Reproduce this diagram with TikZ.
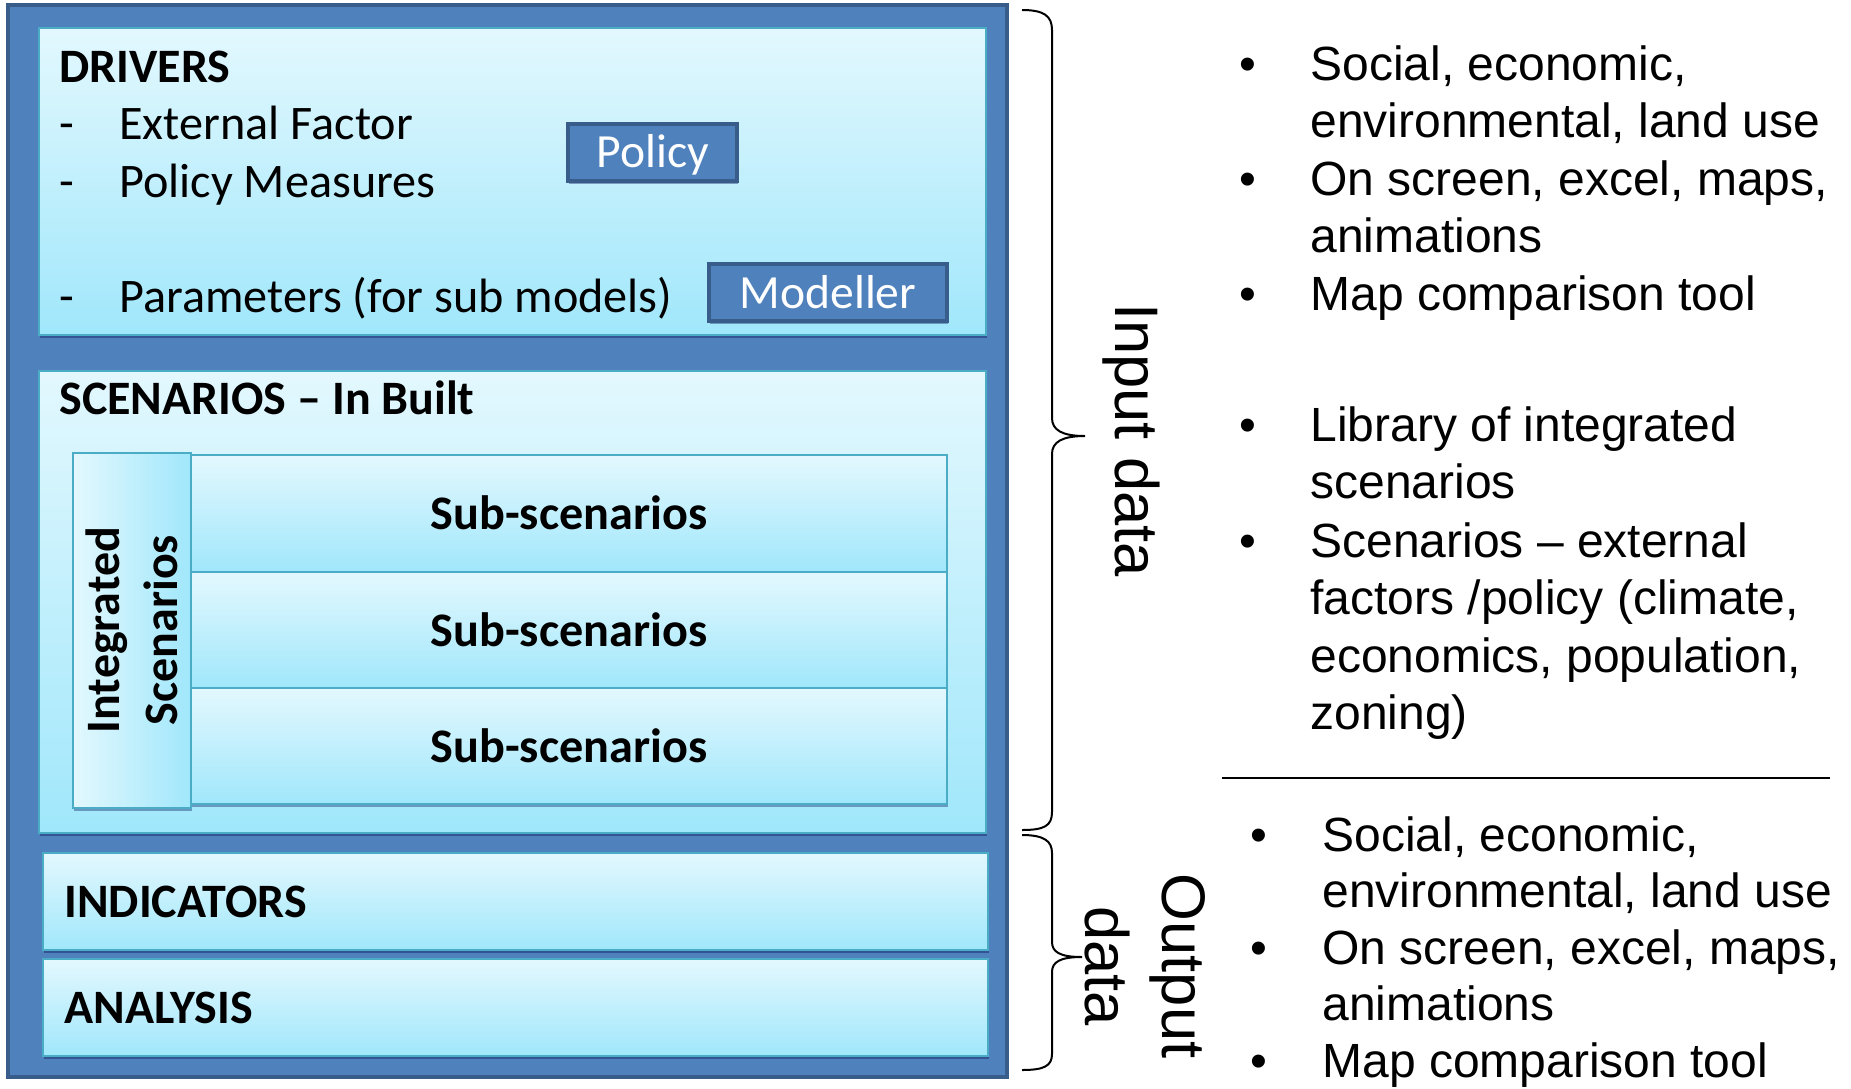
\documentclass[tikz,border=0pt]{standalone}
\usepackage{fontspec}
\setmainfont{Carlito}
\newfontfamily\arialf{Liberation Sans}
\usetikzlibrary{fit,shadows}
\definecolor{oblue}{HTML}{4F81BD}
\definecolor{odark}{HTML}{385D8A}
\definecolor{ptop}{HTML}{E3F8FE}
\definecolor{pbot}{HTML}{A0E7FB}
\definecolor{pedge}{HTML}{4BACC6}
\begin{document}
\begin{tikzpicture}[x=0.5pt,y=-0.5pt,
  shadowed/.style={drop shadow={shadow xshift=0.7pt,shadow yshift=-1.3pt,opacity=0.35,fill=black!70!blue}},
  outerbox/.style={fill=oblue,draw=odark,line width=2pt,inner sep=0pt},
  panel/.style={draw=pedge,line width=1pt,top color=ptop,bottom color=pbot,inner sep=0pt,shadowed},
  sidepanel/.style={draw=pedge,line width=1pt,left color=ptop,right color=pbot,inner sep=0pt,shadowed},
  subtext/.style={inner sep=0pt,anchor=base,font=\fontsize{24.1}{28}\selectfont\bfseries},
  btn/.style={fill=oblue,draw=odark,line width=1.75pt,inner sep=0pt,shadowed},
  btntext/.style={inner sep=0pt,anchor=base,text=white,font=\fontsize{23.8}{28}\selectfont},
  lbl/.style={inner sep=0pt,anchor=base west,font=\fontsize{24.1}{28}\selectfont},
  lblb/.style={inner sep=0pt,anchor=base west,font=\fontsize{24}{28}\selectfont\bfseries},
  rtext/.style={inner sep=0pt,anchor=base west,align=left,font=\arialf\fontsize{24}{28.75}\selectfont},
  rtextb/.style={inner sep=0pt,anchor=base west,align=left,font=\arialf\fontsize{24}{28.25}\selectfont},
  bul/.style={inner sep=0pt,anchor=base,font=\arialf\fontsize{24}{28.75}\selectfont},
  brace/.style={draw=black,line width=1pt},
  sepline/.style={draw=black,line width=1pt}
]
\fill[white] (0,0) rectangle (1851,1088);
\useasboundingbox (0,0) rectangle (1851,1088);

% outer frame
\node[outerbox,fit={(8,5) (1007,1077)}] (outer) {};

% drivers
\node[panel,fit={(39,28) (986,335)}] (drivers) {};
\node[lblb] (drvtitle) at (59,82) {DRIVERS};
\node[lbl] (ext) at (59,139) {\makebox[30pt][l]{-}External Factor};
\node[lbl] (pol) at (59,197) {\makebox[30pt][l]{-}Policy Measures};
\node[lbl] (par) at (59,312) {\makebox[30pt][l]{-}Parameters (for sub models)};
\node[btn,fit={(568,124) (737,181)}] (policy) {};
\node[btntext] (policytxt) at (653,167) {Policy};
\node[btn,fit={(709,264) (947,321)}] (modeller) {};
\node[btntext] (modellertxt) at (828,308) {Modeller};

% scenarios
\node[panel,fit={(39,371) (986,833)}] (scen) {};
\node[lblb] (scentitle) at (59,414) {SCENARIOS – In Built};
\node[panel,fit={(191,455) (947,572)}] (sub1) {};
\node[subtext] (sub1t) at (569,529) {Sub-scenarios};
\node[panel,fit={(191,572) (947,688)}] (sub2) {};
\node[subtext] (sub2t) at (569,646) {Sub-scenarios};
\node[panel,fit={(191,688) (947,804)}] (sub3) {};
\node[subtext] (sub3t) at (569,762) {Sub-scenarios};
\node[sidepanel,fit={(73,453) (191,808)}] (integ) {};
\node[inner sep=0pt,anchor=base,rotate=90,align=center,
  font=\fontsize{24}{29}\selectfont\bfseries] (integlbl) at (177,630) {Integrated\\Scenarios};

% indicators / analysis
\node[panel,fit={(43,853) (988,950)}] (ind) {};
\node[lblb] (indlbl) at (64,917) {INDICATORS};
\node[panel,fit={(43,959) (988,1056)}] (ana) {};
\node[lblb] (analbl) at (64,1023) {ANALYSIS};

% braces
\draw[brace] (1022,10) .. controls (1044,10) and (1052,16) .. (1052,30)
  -- (1052,418) .. controls (1052,430) and (1062,436) .. (1085,436)
  .. controls (1062,436) and (1052,442) .. (1052,454)
  -- (1052,812) .. controls (1052,826) and (1044,830) .. (1022,830);
\draw[brace] (1022,835) .. controls (1044,835) and (1052,841) .. (1052,853)
  -- (1052,942) .. controls (1052,952) and (1060,957) .. (1082,957)
  .. controls (1060,957) and (1052,962) .. (1052,972)
  -- (1052,1054) .. controls (1052,1066) and (1044,1070) .. (1022,1070);

\node[inner sep=0pt,anchor=base,rotate=-90,font=\arialf\fontsize{30.75}{38.5}\selectfont] (inlbl) at (1115,440) {Input data};
\node[inner sep=0pt,anchor=base,rotate=-90,align=center,font=\arialf\fontsize{30.75}{38.5}\selectfont] (outlbl) at (1085,966) {Output\\data};

% input list (base anchor = last line)
\node[bul] (b1) at (1248,80) {•};
\node[rtext] (t1) at (1310,137.5) {Social, economic,\\environmental, land use};
\node[bul] (b2) at (1248,195) {•};
\node[rtext] (t2) at (1310,252.5) {On screen, excel, maps,\\animations};
\node[bul] (b3) at (1248,310) {•};
\node[rtext] (t3) at (1310,310) {Map comparison tool};
\node[bul] (b4) at (1248,441) {•};
\node[rtext] (t4) at (1310,498.5) {Library of integrated\\scenarios};
\node[bul] (b5) at (1248,557) {•};
\node[rtext] (t5) at (1310,729.5) {Scenarios – external\\factors /policy (climate,\\economics, population,\\zoning)};

\coordinate (sepL) at (1222,778);
\coordinate (sepR) at (1830,778);
\draw[sepline] (sepL) -- (sepR);

% output list
\node[bul] (c1) at (1259,851) {•};
\node[rtextb] (u1) at (1322,907.5) {Social, economic,\\environmental, land use};
\node[bul] (c2) at (1259,964) {•};
\node[rtextb] (u2) at (1322,1020.5) {On screen, excel, maps,\\animations};
\node[bul] (c3) at (1259,1077) {•};
\node[rtextb] (u3) at (1322,1077) {Map comparison tool};
\end{tikzpicture}
\end{document}
